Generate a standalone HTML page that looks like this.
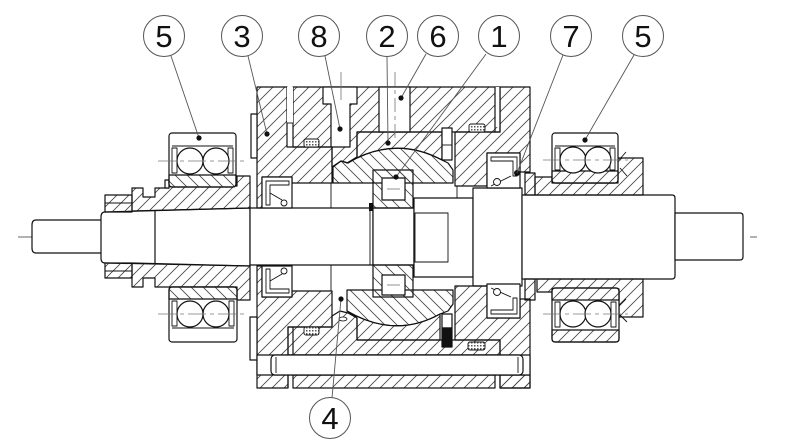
<!DOCTYPE html>
<html><head><meta charset="utf-8"><style>
html,body{margin:0;padding:0;background:#fff;}
svg{display:block;}
text{font-family:"Liberation Sans",sans-serif;font-size:31px;fill:#111;text-anchor:middle;}
</style></head><body>
<svg width="800" height="445" viewBox="0 0 800 445" xmlns="http://www.w3.org/2000/svg">
<defs>
<pattern id="a" width="12" height="12" patternUnits="userSpaceOnUse">
<path d="M-2,2 L2,-2 M0,12 L12,0 M10,14 L14,10" stroke="#444" stroke-width="0.8"/>
</pattern>
<pattern id="b" width="12" height="12" patternUnits="userSpaceOnUse">
<path d="M-2,10 L2,14 M0,0 L12,12 M10,-2 L14,2" stroke="#444" stroke-width="0.8"/>
</pattern>
<pattern id="c" width="3" height="3" patternUnits="userSpaceOnUse">
<rect width="3" height="3" fill="#fff"/><rect width="1.5" height="1.5" fill="#555"/>
</pattern>
</defs>

<!-- centerline -->
<line x1="18" y1="237" x2="757" y2="237" stroke="#666" stroke-width="0.9" stroke-dasharray="100 7 8 7"/>

<g fill="#fff" stroke="#111" stroke-width="1.2" stroke-linejoin="round">
<!-- shafts -->
<path d="M102,220 H36 Q32,220 32,225 V248 Q32,253 36,253 H102 Z"/>
<path d="M105,212 L250,208 V266 L105,263 Q101,263 101,258 V217 Q101,212 105,212 Z"/>
<line x1="155" y1="211" x2="155" y2="263"/>
<rect x="250" y="208" width="123" height="57"/>
<rect x="373" y="208" width="41" height="57"/>
<line x1="370" y1="208" x2="370" y2="265" stroke-width="0.9"/>
<rect x="369" y="203" width="4" height="8" fill="#111" stroke="none"/>
<rect x="414" y="198" width="59" height="79"/>
<rect x="415" y="213" width="33" height="49" fill="none" stroke-width="0.9"/>
<rect x="473" y="188" width="49" height="98"/>
<path d="M522,195 H672 Q675,195 675,198 V276 Q675,279 672,279 H522 Z"/>
<path d="M675,213 H740 Q743,213 743,216 V257 Q743,260 740,260 H675 Z"/>

<!-- left sleeves -->
<path fill="url(#a)" d="M132,211 V188 H143 V197 H155 V188 H169 V186 H237 V176 H250 V208 Z"/>
<rect x="105" y="195" width="27" height="17" fill="url(#a)"/>
<line x1="105" y1="203" x2="132" y2="203" stroke-width="0.9"/>
<rect x="165" y="180" width="4" height="8"/>
<path fill="url(#a)" d="M132,263 V287 H143 V278 H155 V287 H237 V300 H250 V266 Z"/>
<rect x="105" y="263" width="27" height="15" fill="url(#a)"/>
<line x1="105" y1="271" x2="132" y2="271" stroke-width="0.9"/>

<!-- right sleeves -->
<path fill="url(#a)" d="M535,195 V177 H552 V183 H618 V158 H643 V195 Z"/>
<path fill="url(#a)" d="M537,279 V292 H552 V289 H619 V317 H643 V279 Z"/>
<rect x="525" y="173" width="10" height="22" fill="url(#a)"/>
<rect x="525" y="279" width="10" height="21" fill="url(#a)"/>

<!-- bearings upper-left -->
<rect x="169" y="133" width="67" height="54" rx="3"/>
<path fill="url(#b)" d="M169,175 H236 V184 Q236,187 233,187 H172 Q169,187 169,184 Z"/>
<line x1="172" y1="146" x2="233" y2="146" stroke-width="0.9"/>
<rect x="172" y="148" width="5" height="25" stroke-width="0.9"/>
<rect x="228" y="148" width="5" height="25" stroke-width="0.9"/>
<circle cx="190" cy="161" r="13"/><circle cx="216" cy="161" r="13"/>
<!-- upper-right -->
<rect x="552" y="133" width="66" height="50" rx="3"/>
<path fill="url(#a)" d="M552,171 H618 V180 Q618,183 615,183 H555 Q552,183 552,180 Z"/>
<line x1="555" y1="146" x2="615" y2="146" stroke-width="0.9"/>
<rect x="555" y="148" width="5" height="22" stroke-width="0.9"/>
<rect x="610" y="148" width="5" height="22" stroke-width="0.9"/>
<circle cx="573" cy="160" r="13"/><circle cx="598" cy="160" r="13"/>
<path d="M619,160 L626,152 M620,168 L627,176" fill="none" stroke-width="0.9"/>
<!-- lower-left -->
<rect x="169" y="287" width="68" height="55" rx="3"/>
<path fill="url(#b)" d="M169,299 H237 V290 Q237,287 234,287 H172 Q169,287 169,290 Z"/>
<line x1="172" y1="328" x2="234" y2="328" stroke-width="0.9"/>
<rect x="172" y="301" width="5" height="25" stroke-width="0.9"/>
<rect x="229" y="301" width="5" height="25" stroke-width="0.9"/>
<circle cx="190" cy="314" r="13"/><circle cx="216" cy="314" r="13"/>
<!-- lower-right -->
<rect x="552" y="288" width="67" height="54" rx="3"/>
<path fill="url(#a)" d="M552,300 H619 V291 Q619,288 616,288 H555 Q552,288 552,291 Z"/>
<path fill="url(#a)" d="M552,330 H619 V339 Q619,342 616,342 H555 Q552,342 552,339 Z"/>
<rect x="555" y="302" width="5" height="25" stroke-width="0.9"/>
<rect x="611" y="302" width="5" height="25" stroke-width="0.9"/>
<circle cx="573" cy="314" r="13"/><circle cx="598" cy="314" r="13"/>
<path d="M619,306 L626,299 M619,314 L627,322" fill="none" stroke-width="0.9"/>

<!-- ===== housing upper ===== -->
<path fill="url(#a)" d="M257,87 H287 V147 H332 V183 H292 V177 H262 V208 H257 Z"/>
<rect x="251" y="114" width="6" height="44"/>
<path fill="url(#a)" d="M293,87 H500 V132 H357 V157 L348,163 L341,161 L332,167 V147 H293 Z"/>
<rect x="287" y="87" width="6" height="36" stroke="none"/>
<line x1="287" y1="123" x2="293" y2="123" stroke-width="0.9"/>
<rect x="495" y="87" width="5" height="40" stroke="none"/>
<line x1="495" y1="87" x2="495" y2="132"/>
<path d="M323,87 H357 V104 H350 V147 H331 V104 H323 Z"/>
<rect x="379" y="87" width="31" height="45"/>
<path fill="url(#a)" d="M500,87 H530 V172 H520 V153 H487 V186 H455 V132 H500 Z"/>
<path fill="url(#a)" d="M357,132 H442 V160 Q395,135 347,163 L357,157 Z"/>
<path fill="url(#b)" d="M333,183 V167 L341,161 L348,163 Q395,135 442,160 L448,163 L453,170 V183 Z"/>
<rect x="442" y="128" width="10" height="32"/>
<line x1="442" y1="145" x2="452" y2="145" stroke-width="0.9"/>
<rect x="373" y="170" width="40" height="38" fill="url(#b)"/>
<rect x="382" y="178" width="23" height="22"/>
<line x1="331" y1="183" x2="331" y2="208" stroke-width="0.9"/>
<line x1="457" y1="186" x2="457" y2="198" stroke-width="0.9"/>
<!-- seals upper -->
<rect x="262" y="177" width="30" height="31"/>
<path d="M266,181 H289 V185 H270 V205 H266 Z M270,193 L282,200" fill="none" stroke-width="0.9"/>
<circle cx="284" cy="203" r="3" stroke-width="0.9"/>
<rect x="487" y="153" width="33" height="35"/>
<path d="M491,157 H517 V176 H513 V161 H491 Z M491,186 L511,176" fill="none" stroke-width="0.9"/>
<circle cx="497" cy="182" r="3.5" stroke-width="0.9"/>
<circle cx="517" cy="173" r="3" fill="#111" stroke="none"/>
<!-- o-rings upper -->
<rect x="304" y="139" width="15" height="8" rx="2" fill="url(#c)" stroke-width="0.9"/>
<rect x="469" y="124" width="16" height="8" rx="2" fill="url(#c)" stroke-width="0.9"/>

<!-- ===== housing lower ===== -->
<path fill="url(#a)" d="M257,266 H262 V297 H292 V291 H332 V327 H288 V388 H257 Z"/>
<rect x="250" y="317" width="7" height="43"/>
<path fill="url(#a)" d="M288,327 H332 V316 L340,311 L348,313 L357,318 V340 H500 V355 H288 Z"/>
<path fill="url(#a)" d="M455,286 H487 V318 H520 V299 H530 V388 H500 V340 H455 Z"/>
<path fill="url(#a)" d="M357,340 H440 V314 Q395,339 347,311 L357,318 Z"/>
<path fill="url(#b)" d="M347,290 V311 Q395,339 440,314 L448,311 L453,304 V290 Z"/>
<rect x="373" y="265" width="40" height="32" fill="url(#b)"/>
<rect x="382" y="275" width="23" height="20"/>
<rect x="442" y="314" width="10" height="14"/>
<rect x="442" y="328" width="10" height="19" fill="#111"/>
<line x1="331" y1="265" x2="331" y2="291" stroke-width="0.9"/>
<ellipse cx="343" cy="319" rx="4" ry="2" stroke-width="0.8"/>
<!-- lower strip + bolt -->
<rect x="293" y="375" width="202" height="13" fill="url(#a)"/>
<rect x="500" y="375" width="30" height="13" fill="url(#a)"/>
<rect x="257" y="355" width="273" height="20"/>
<rect x="271" y="355" width="252" height="20" rx="4"/>
<line x1="276" y1="357" x2="276" y2="373" stroke-width="0.9"/>
<line x1="518" y1="357" x2="518" y2="373" stroke-width="0.9"/>
<line x1="288" y1="375" x2="288" y2="388"/>
<line x1="293" y1="327" x2="293" y2="355"/>
<!-- seals lower -->
<rect x="262" y="266" width="30" height="31"/>
<path d="M266,293 H289 V289 H270 V269 H266 Z M270,281 L282,274" fill="none" stroke-width="0.9"/>
<circle cx="284" cy="271" r="3" stroke-width="0.9"/>
<rect x="487" y="284" width="33" height="34"/>
<path d="M491,314 H517 V298 H513 V310 H491 Z M491,288 L511,297" fill="none" stroke-width="0.9"/>
<circle cx="497" cy="292" r="3.5" stroke-width="0.9"/>
<!-- o-rings lower -->
<rect x="304" y="327" width="15" height="8" rx="2" fill="url(#c)" stroke-width="0.9"/>
<rect x="468" y="342" width="17" height="8" rx="2" fill="url(#c)" stroke-width="0.9"/>
</g>

<!-- thin center lines -->
<g stroke="#777" stroke-width="0.8" fill="none">
<line x1="158" y1="161" x2="248" y2="161" stroke-dasharray="18 4 4 4"/>
<line x1="158" y1="314" x2="248" y2="314" stroke-dasharray="18 4 4 4"/>
<line x1="543" y1="160" x2="628" y2="160" stroke-dasharray="18 4 4 4"/>
<line x1="543" y1="314" x2="628" y2="314" stroke-dasharray="18 4 4 4"/>
<line x1="341" y1="72" x2="341" y2="100"/>
<line x1="395" y1="72" x2="395" y2="142" stroke-dasharray="14 4 4 4"/>
<line x1="387" y1="189" x2="400" y2="189"/>
<line x1="387" y1="285" x2="400" y2="285"/>
</g>

<!-- leaders -->
<g stroke="#555" stroke-width="0.9">
<line x1="171" y1="56" x2="199" y2="138"/>
<line x1="248" y1="56" x2="267" y2="134"/>
<line x1="325" y1="56" x2="340" y2="129"/>
<line x1="387" y1="57" x2="388" y2="143"/>
<line x1="426" y1="54" x2="401" y2="98"/>
<line x1="486" y1="54" x2="396" y2="177"/>
<line x1="563" y1="55" x2="517" y2="173"/>
<line x1="634" y1="55" x2="585" y2="140"/>
<line x1="332" y1="398" x2="341" y2="299"/>
</g>
<g fill="#111">
<circle cx="199" cy="138" r="2.6"/>
<circle cx="267" cy="134" r="2.6"/>
<circle cx="340" cy="129" r="2.6"/>
<circle cx="388" cy="143" r="2.6"/>
<circle cx="401" cy="98" r="2.6"/>
<circle cx="396" cy="177" r="2.6"/>
<circle cx="585" cy="140" r="2.6"/>
<circle cx="341" cy="299" r="2.6"/>
</g>

<!-- balloons -->
<g fill="#fff" stroke="#555" stroke-width="1">
<circle cx="164" cy="36" r="20.5"/>
<circle cx="242" cy="36" r="20.5"/>
<circle cx="319" cy="36" r="20.5"/>
<circle cx="387" cy="36" r="20.5"/>
<circle cx="438" cy="36" r="20.5"/>
<circle cx="499" cy="36" r="20.5"/>
<circle cx="571" cy="36" r="20.5"/>
<circle cx="643" cy="36" r="20.5"/>
<circle cx="330" cy="418" r="20.5"/>
</g>
<text x="164" y="47">5</text>
<text x="242" y="47">3</text>
<text x="319" y="47">8</text>
<text x="387" y="47">2</text>
<text x="438" y="47">6</text>
<text x="499" y="47">1</text>
<text x="571" y="47">7</text>
<text x="643" y="47">5</text>
<text x="330" y="429">4</text>
</svg>
</body></html>
